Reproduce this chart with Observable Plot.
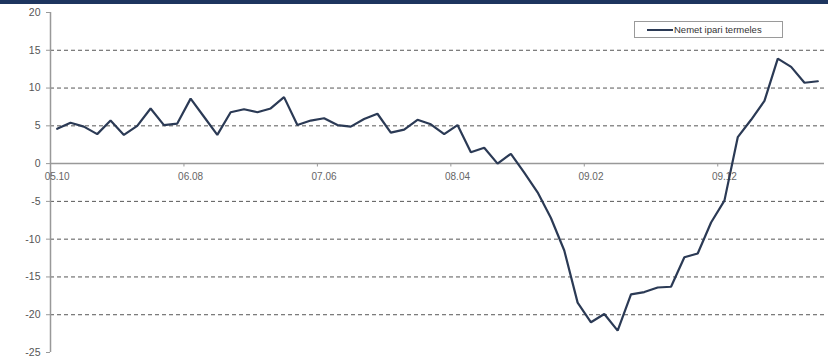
<!DOCTYPE html>
<html>
<head>
<meta charset="utf-8">
<script src="https://cdn.jsdelivr.net/npm/d3@7"></script>
<script src="https://cdn.jsdelivr.net/npm/@observablehq/plot@0.6"></script>
<style>
  html, body { margin: 0; padding: 0; background: #fff; }
  body { width: 828px; height: 358px; position: relative; overflow: hidden; font-family: "Liberation Sans", Arial, sans-serif; }
  #topbar { height: 4px; background: #1d355f; }
  #legend { position: absolute; left: 634px; top: 21px; width: 147px; height: 15px; border: 1px solid #9a9a9a; background: #fff; display: flex; align-items: center; font-size: 9.5px; color: #333; }
  #legend .sw { width: 26px; height: 2px; background: #2b3a55; margin-left: 12px; margin-right: 1px; }
</style>
</head>
<body>
<div id="topbar"></div>
<div id="chart"></div>
<div id="legend"><span class="sw"></span><span>Nemet ipari termeles</span></div>
<script>
const seriesName = "Nemet ipari termeles";
const tickLabels = ["05.10", "06.08", "07.06", "08.04", "09.02", "09.12"];
const tickIndex = [0, 10, 20, 30, 40, 50];
const yTicks = [20, 15, 10, 5, 0, -5, -10, -15, -20, -25];
const gridValues = [15, 10, 5, -5, -10, -15, -20];
const values = [
  4.6, 5.4, 4.9, 3.9, 5.7, 3.8, 5.0, 7.3, 5.1, 5.3,
  8.6, 6.2, 3.8, 6.8, 7.2, 6.8, 7.3, 8.8, 5.1, 5.7,
  6.0, 5.1, 4.9, 5.9, 6.6, 4.1, 4.5, 5.8, 5.2, 3.9,
  5.1, 1.5, 2.1, 0.0, 1.3, -1.2, -3.8, -7.2, -11.5, -18.4,
  -21.0, -19.9, -22.1, -17.3, -17.0, -16.4, -16.3, -12.4, -11.9, -7.8,
  -4.9, 3.5, 5.8, 8.3, 13.9, 12.8, 10.7, 10.9
];
const nMonths = values.length;
const data = values.map((v, i) => ({i, v}));

const chart = Plot.plot({
  width: 828,
  height: 354,
  marginLeft: 50,
  marginRight: 4,
  marginTop: 8,
  marginBottom: 6,
  style: {fontFamily: "'Liberation Sans', Arial, sans-serif", background: "transparent"},
  x: {domain: [0, nMonths], axis: null},
  y: {domain: [-25, 20], axis: null},
  marks: [
    Plot.ruleY(gridValues, {stroke: "#3a3a3a", strokeWidth: 1, strokeDasharray: "4,3", strokeOpacity: 0.85}),
    Plot.ruleY([0], {stroke: "#999", strokeWidth: 1.5}),
    Plot.ruleX([0], {y1: -25, y2: 20, stroke: "#999", strokeWidth: 1.5}),
    Plot.axisY({ticks: yTicks, label: null, tickSize: 4, tickPadding: 6, stroke: "#999", fill: "#555", fontSize: 10.5, tickFormat: d => d}),
    Plot.ruleX(tickIndex, {y1: 0, y2: -0.45, stroke: "#999", strokeWidth: 1}),
    Plot.text(tickIndex, {x: d => d + 0.5, y: 0, text: (d, k) => tickLabels[k], dy: 13, fill: "#666", fontSize: 10}),
    Plot.line(data, {x: d => d.i + 0.5, y: "v", stroke: "#2b3a55", strokeWidth: 2.2, strokeLinejoin: "miter"})
  ]
});
document.getElementById("chart").appendChild(chart);
</script>
</body>
</html>
